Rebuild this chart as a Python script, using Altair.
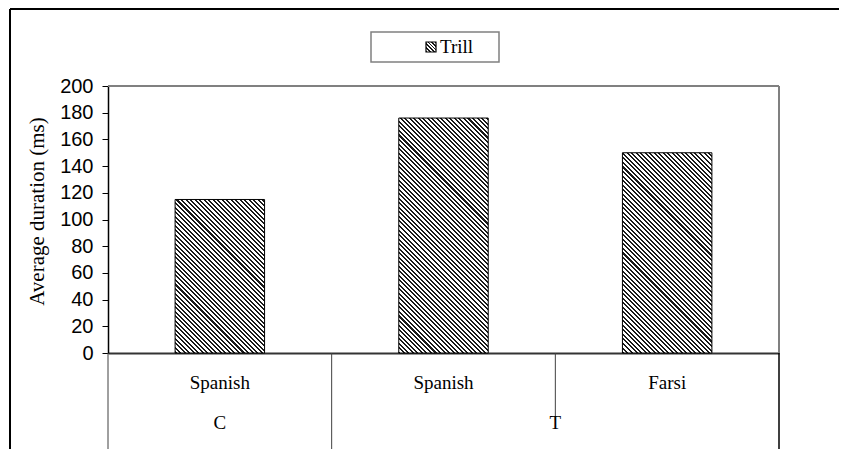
import math
import altair as alt
import pandas as pd

# ---- data ----
groups = ["C", "T", "T"]
languages = ["Spanish", "Spanish", "Farsi"]
durations = [115, 176, 150]
series_name = "Trill"
y_title = "Average duration (ms)"
y_ticks = [0, 20, 40, 60, 80, 100, 120, 140, 160, 180, 200]
y_max = 200

# ---- layout (pixels) ----
PW, PH = 671, 267
PAD = {"left": 100, "top": 78, "right": 60, "bottom": 96}
BAR_FRAC = 0.4
SERIF = "Liberation Serif"
SANS = "Liberation Sans"
FS = 19

keys = [f"{g}|{l}" for g, l in zip(groups, languages)]
gstart = [i == 0 or groups[i] != groups[i - 1] for i in range(len(groups))]
df = pd.DataFrame({"key": keys, "group": groups, "language": languages,
                   "duration": durations, "gstart": gstart})

# group label anchors
g_rows = []
seen = []
for g in groups:
    if g not in seen:
        seen.append(g)
for g in seen:
    idx = [i for i, gg in enumerate(groups) if gg == g]
    n = len(idx)
    if n % 2 == 1:
        g_rows.append({"group": g, "key": keys[idx[n // 2]], "bp": 0.5})
    else:
        g_rows.append({"group": g, "key": keys[idx[n // 2 - 1]], "bp": 1.0})
gdf = pd.DataFrame(g_rows)


def hatch(W, H, period=3.2, dark=0.45, c1="#1a1a1a", c2="white"):
    """linear gradient with hard stops => 45 degree '\\' stripes in a W x H box"""
    k = (W + H) / (W * W + H * H)
    p, q = k * W, k * H
    L = (W + H) / math.sqrt(2)
    n = L / period
    stops = []
    i = 0
    while i / n < 1:
        t0 = i / n
        t1 = min((i + dark) / n, 1)
        t2 = min((i + 1) / n, 1)
        stops += [{"offset": t0, "color": c1}, {"offset": t1, "color": c1},
                  {"offset": t1, "color": c2}, {"offset": t2, "color": c2}]
        i += 1
    return {"gradient": "linear", "x1": 0, "y1": 1, "x2": p, "y2": 1 - q,
            "stops": stops}


x_scale = alt.Scale(domain=keys, paddingInner=0, paddingOuter=0)
y_scale = alt.Scale(domain=[0, y_max], nice=False, zero=True)

y_axis = alt.Axis(values=y_ticks, grid=False, tickSize=6, tickColor="black",
                  tickWidth=1, domainColor="black", domainWidth=1.5,
                  labelFont=SANS, labelFontSize=20, labelColor="black",
                  labelPadding=9, title=y_title, titleFont=SERIF,
                  titleFontSize=21, titleFontWeight="normal", titleColor="black",
                  titleX=-71, titleY=125, titleAngle=270, titleAlign="center",
                  titleBaseline="middle", labelOverlap=False)
x_axis = alt.Axis(labels=False, ticks=False, title=None, grid=False,
                  domainColor="#333333", domainWidth=2)


def X(bp=None):
    if bp is None:
        return alt.X("key:N", scale=x_scale, axis=x_axis)
    return alt.X("key:N", scale=x_scale, axis=x_axis, bandPosition=bp)


def Y(field="duration:Q"):
    return alt.Y(field, scale=y_scale, axis=y_axis)


base = alt.Chart(df)
layers = []

# bars with hatch fill
bw = BAR_FRAC * PW / len(keys)
for k_, v in zip(keys, durations):
    h = v / y_max * PH
    layers.append(
        base.transform_filter(alt.datum.key == k_).mark_bar(
            width=alt.RelativeBandSize(BAR_FRAC), fill=hatch(bw, h),
            stroke="black", strokeWidth=1).encode(x=X(), y=Y()))

# plot-area border (top / right)
layers.append(alt.Chart(pd.DataFrame({"duration": [y_max]})).mark_rule(
    color="#808080", strokeWidth=2).encode(y=Y()))
layers.append(base.transform_filter(alt.datum.key == keys[-1]).mark_rule(
    color="#808080", strokeWidth=2).encode(x=X(1)))

# category table lines
long_y2 = PH + PAD["bottom"]
short_y2 = PH + 67
rule_style = dict(color="#404040", strokeWidth=1)
layers.append(base.transform_filter(alt.datum.gstart).mark_rule(**rule_style).encode(
    x=X(0), y=alt.value(PH), y2=alt.value(long_y2)))
layers.append(base.transform_filter(~alt.datum.gstart).mark_rule(**rule_style).encode(
    x=X(0), y=alt.value(PH), y2=alt.value(short_y2)))
layers.append(base.transform_filter(alt.datum.key == keys[-1]).mark_rule(
    color="black", strokeWidth=1.5).encode(
    x=X(1), y=alt.value(PH), y2=alt.value(long_y2)))

# category labels
layers.append(base.mark_text(font=SERIF, fontSize=FS, color="black",
                             baseline="middle").encode(
    x=X(), y=alt.value(297), text="language:N"))
for bp in sorted(set(gdf["bp"])):
    layers.append(alt.Chart(gdf).transform_filter(alt.datum.bp == bp).mark_text(
        font=SERIF, fontSize=FS, color="black", baseline="middle").encode(
        x=X(bp), y=alt.value(337), text="group:N"))

# outer frame (left and top)
one = alt.Data(values=[{"a": 1}])
layers.append(alt.Chart(one).mark_rule(color="black", strokeWidth=2).encode(
    x=alt.value(-98), y=alt.value(-77), y2=alt.value(long_y2)))
layers.append(alt.Chart(one).mark_rule(color="black", strokeWidth=2).encode(
    x=alt.value(-98), x2=alt.value(PW + PAD["right"]), y=alt.value(-77)))

# legend box
leg = alt.Chart(pd.DataFrame({"s": [series_name]}))
layers.append(leg.mark_rect(fill="white", stroke="#808080", strokeWidth=1.5).encode(
    x=alt.value(263), x2=alt.value(391), y=alt.value(-54), y2=alt.value(-24)))
layers.append(leg.mark_rect(fill=hatch(10, 10, period=2.6, dark=0.5), stroke="black",
                            strokeWidth=1.2).encode(
    x=alt.value(318), x2=alt.value(328), y=alt.value(-44), y2=alt.value(-34)))
layers.append(leg.mark_text(font=SERIF, fontSize=FS, color="black", align="left",
                            baseline="middle").encode(
    x=alt.value(332), y=alt.value(-39), text="s:N"))

chart = alt.layer(*layers).properties(
    width=PW, height=PH, padding=PAD,
    autosize=alt.AutoSizeParams(type="none"),
    background="white",
).configure_view(stroke=None)

chart.save("out.html", embed_options={"renderer": "svg", "actions": False})
